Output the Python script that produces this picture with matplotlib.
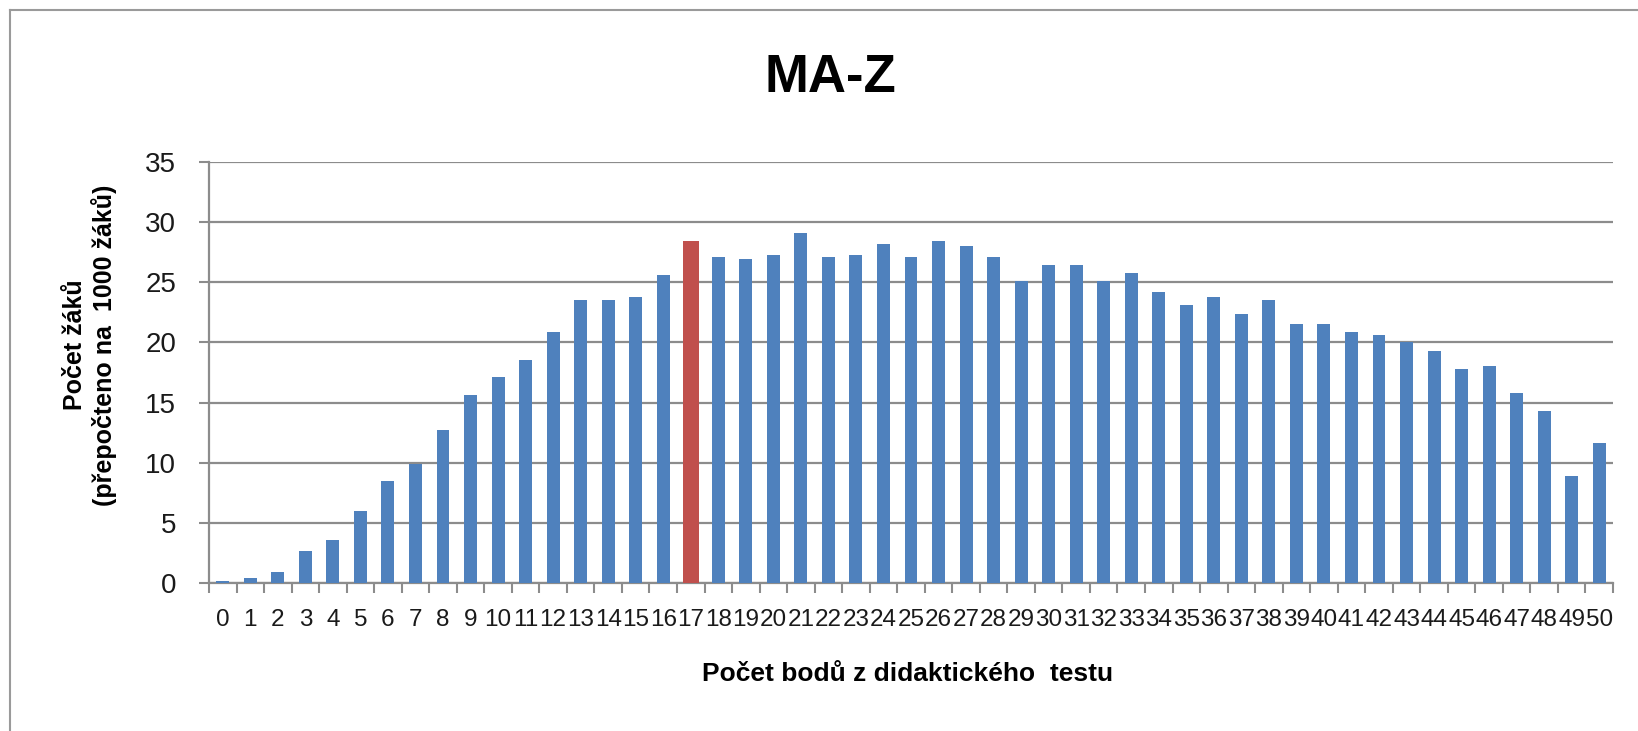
import matplotlib
matplotlib.use("Agg")
import matplotlib.pyplot as plt
from matplotlib.lines import Line2D

categories = [str(i) for i in range(51)]
values = [0.2, 0.4, 0.9, 2.7, 3.6, 6.0, 8.5, 9.9, 12.7, 15.6,
          17.1, 18.5, 20.9, 23.5, 23.5, 23.8, 25.6, 28.4, 27.1, 26.9,
          27.3, 29.1, 27.1, 27.3, 28.2, 27.1, 28.4, 28.0, 27.1, 25.1,
          26.4, 26.4, 25.1, 25.8, 24.2, 23.1, 23.8, 22.4, 23.5, 21.5,
          21.5, 20.9, 20.6, 20.0, 19.3, 17.8, 18.0, 15.8, 14.3, 8.9,
          11.6]
highlight = "17"
yticks = [0, 5, 10, 15, 20, 25, 30, 35]

title = "MA-Z"
xlabel = "Počet bodů z didaktického  testu"
ylabel = "Počet žáků\n(přepočteno na  1000 žáků)"

BLUE = "#4F81BD"
RED = "#C0504D"
GRID = "#8C8C8C"

plt.rcParams['font.family'] = ['Liberation Sans', 'DejaVu Sans']

W, H = 1638, 731
fig = plt.figure(figsize=(W / 100, H / 100), dpi=100)
ax = fig.add_axes([209 / W, 1 - 583 / H, (1613 - 209) / W, (583 - 162) / H])

x = list(range(len(categories)))
colors = [RED if c == highlight else BLUE for c in categories]
widths = [0.58 if c == highlight else 0.47 for c in categories]
ax.bar(x, values, width=widths, color=colors, zorder=3)

ax.set_xlim(-0.5, len(categories) - 0.5)
ax.set_ylim(0, 35)
ax.set_yticks(yticks)
ax.set_yticklabels([str(t) for t in yticks], fontsize=20, color="#1a1a1a")
ax.set_xticks(x)
ax.set_xticklabels(categories, fontsize=17.5, color="#1a1a1a")
ax.set_xticks([i - 0.5 for i in range(len(categories) + 1)], minor=True)

ax.yaxis.grid(True, color=GRID, linewidth=1.6, zorder=0)
ax.tick_params(axis='y', which='major', length=7.5, width=1.5, color=GRID, pad=16, direction='out')
ax.tick_params(axis='x', which='major', length=0, pad=19)
ax.tick_params(axis='x', which='minor', length=7, width=1.5, color=GRID, direction='out')

for s in ['top', 'right']:
    ax.spines[s].set_visible(False)
for s in ['left', 'bottom']:
    ax.spines[s].set_color(GRID)
    ax.spines[s].set_linewidth(1.6)

fig.text(830 / W, 1 - 78 / H, title, ha='center', va='center', fontsize=38, fontweight='bold')
fig.text(908 / W, 1 - 674 / H, xlabel, ha='center', va='center', fontsize=19, fontweight='bold')
fig.text(90 / W, 1 - 345 / H, ylabel, ha='center', va='center', rotation=90,
         fontsize=18, fontweight='bold', linespacing=1.15, multialignment='center')

# outer frame (only top and left edges are visible in the cropped original)
fig.add_artist(Line2D([10 / W, 10 / W], [0, 1 - 10 / H], color="#9A9A9A", linewidth=1.5))
fig.add_artist(Line2D([10 / W, 1], [1 - 10 / H, 1 - 10 / H], color="#9A9A9A", linewidth=1.5))

fig.savefig("out.png", dpi=100)
